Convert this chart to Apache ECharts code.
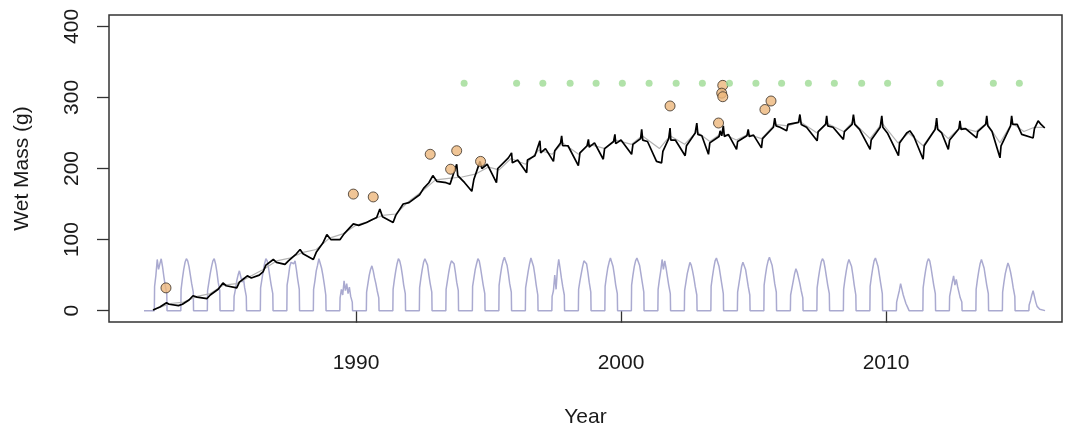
<!DOCTYPE html>
<html>
<head>
<meta charset="utf-8">
<script src="https://cdn.jsdelivr.net/npm/echarts@6/dist/echarts.min.js"></script>
<style>
  html, body { margin: 0; padding: 0; background: #ffffff; }
  #chart { width: 1072px; height: 434px; }
</style>
</head>
<body>
<div id="chart"></div>
<script>
// Axis ticks
const xTicks = [1990, 2000, 2010];
const yTicks = [0, 100, 200, 300, 400];

// Seasonal forcing curve (lavender): one summer pulse per year, zero otherwise
const pulseYears = [1982, 1983, 1984, 1985, 1986, 1987, 1988, 1989, 1990, 1991, 1992,
  1993, 1994, 1995, 1996, 1997, 1998, 1999, 2000, 2001, 2002, 2003, 2004, 2005, 2006,
  2007, 2008, 2009, 2010, 2011, 2012, 2013, 2014, 2015];
// position of each pulse sample within its year
const pulseFractions = [0.40, 0.45, 0.50, 0.55, 0.60, 0.65, 0.70, 0.75, 0.80, 0.86];
const pulseValues = [
  [34, 50, 72, 58, 66, 73, 62, 48, 36, 24],
  [30, 45, 58, 68, 73, 70, 62, 50, 38, 26],
  [28, 40, 52, 62, 70, 73, 66, 55, 40, 28],
  [20, 30, 42, 50, 56, 48, 40, 46, 32, 20],
  [32, 44, 56, 66, 73, 70, 60, 48, 36, 24],
  [36, 48, 62, 68, 70, 66, 70, 58, 44, 30],
  [30, 42, 56, 64, 73, 71, 60, 50, 38, 22],
  [18, 30, 22, 42, 28, 38, 24, 33, 20, 12],
  [26, 38, 50, 58, 63, 56, 46, 38, 28, 18],
  [30, 44, 56, 66, 73, 70, 62, 50, 36, 24],
  [32, 46, 58, 68, 73, 72, 64, 50, 38, 26],
  [30, 42, 54, 64, 70, 72, 66, 54, 40, 28],
  [34, 46, 58, 66, 73, 70, 60, 48, 36, 24],
  [36, 50, 62, 70, 75, 73, 64, 52, 38, 26],
  [32, 44, 56, 66, 74, 72, 62, 50, 36, 22],
  [20, 28, 50, 30, 58, 72, 60, 46, 34, 22],
  [30, 42, 52, 62, 70, 72, 66, 54, 40, 26],
  [34, 48, 60, 68, 74, 72, 62, 50, 36, 24],
  [36, 50, 62, 70, 74, 73, 64, 52, 40, 26],
  [30, 44, 56, 72, 58, 70, 60, 48, 36, 24],
  [28, 40, 52, 60, 68, 64, 56, 46, 34, 22],
  [34, 48, 60, 70, 74, 72, 62, 50, 38, 24],
  [26, 38, 50, 62, 68, 66, 58, 46, 34, 22],
  [36, 50, 62, 70, 75, 73, 64, 52, 38, 26],
  [22, 32, 42, 52, 59, 54, 46, 38, 28, 18],
  [32, 46, 58, 68, 73, 70, 60, 48, 36, 24],
  [30, 44, 56, 66, 72, 70, 62, 50, 36, 22],
  [34, 48, 60, 70, 74, 72, 62, 50, 38, 24],
  [12, 20, 28, 38, 30, 22, 16, 10, 6, 4],
  [32, 46, 58, 68, 73, 70, 60, 48, 36, 24],
  [20, 30, 40, 49, 36, 44, 34, 26, 18, 12],
  [30, 44, 56, 66, 72, 70, 60, 48, 36, 24],
  [26, 40, 52, 60, 67, 62, 54, 44, 32, 20],
  [8, 14, 22, 28, 20, 12, 6, 4, 2, 1]
];
const pulseStart = 1982.0;
const pulseEnd = 2016.0;

// Modelled wet mass (black), [year, grams]
const massModel = [
  [1982.34, 1], [1982.6, 5], [1982.85, 11], [1982.95, 9], [1983.3, 7], [1983.45, 9],
  [1983.7, 15], [1983.85, 21], [1984.0, 19], [1984.38, 17], [1984.5, 22], [1984.8, 30],
  [1984.98, 39], [1985.1, 35], [1985.5, 32], [1985.6, 40], [1985.9, 49], [1986.05, 46],
  [1986.35, 50], [1986.5, 55], [1986.6, 64], [1986.88, 72], [1987.0, 68], [1987.32, 65],
  [1987.45, 70], [1987.75, 80], [1987.89, 86], [1988.0, 80], [1988.39, 72], [1988.5, 82],
  [1988.75, 95], [1988.9, 107], [1989.05, 100], [1989.4, 100], [1989.55, 108], [1989.75, 116],
  [1989.9, 122], [1990.1, 120], [1990.4, 124], [1990.6, 128], [1990.78, 131], [1990.9, 143],
  [1991.0, 132], [1991.4, 124], [1991.5, 134], [1991.78, 150], [1992.0, 152], [1992.4, 163],
  [1992.55, 172], [1992.75, 180], [1992.9, 190], [1993.05, 182], [1993.4, 180], [1993.55, 178],
  [1993.7, 195], [1993.8, 206], [1993.84, 190], [1994.1, 180], [1994.37, 168], [1994.45, 185],
  [1994.68, 210], [1994.75, 200], [1994.95, 206], [1995.3, 180], [1995.35, 200], [1995.75, 215],
  [1995.87, 222], [1995.9, 208], [1996.1, 212], [1996.44, 194], [1996.47, 212], [1996.75, 218],
  [1996.94, 239], [1996.97, 222], [1997.15, 228], [1997.45, 210], [1997.5, 225], [1997.72, 236],
  [1997.76, 246], [1997.8, 232], [1998.0, 232], [1998.39, 204], [1998.45, 222], [1998.72, 232],
  [1998.77, 241], [1998.8, 230], [1999.0, 236], [1999.33, 213], [1999.38, 228], [1999.72, 238],
  [1999.77, 248], [1999.8, 235], [2000.0, 240], [2000.4, 220], [2000.45, 234], [2000.74, 242],
  [2000.78, 255], [2000.82, 240], [2001.0, 238], [2001.34, 210], [2001.53, 208], [2001.58, 224],
  [2001.8, 242], [2001.85, 257], [2001.88, 240], [2002.05, 240], [2002.42, 218], [2002.47, 232],
  [2002.8, 250], [2002.86, 264], [2002.9, 248], [2003.05, 246], [2003.3, 220], [2003.35, 236],
  [2003.7, 245], [2003.74, 253], [2003.8, 246], [2003.86, 260], [2003.9, 245], [2004.05, 248],
  [2004.36, 227], [2004.4, 238], [2004.75, 246], [2004.8, 255], [2004.84, 245], [2005.0, 247],
  [2005.3, 229], [2005.34, 242], [2005.75, 258], [2005.8, 271], [2005.85, 260], [2006.0, 258],
  [2006.25, 253], [2006.3, 262], [2006.7, 265], [2006.75, 276], [2006.8, 262], [2007.0, 258],
  [2007.4, 239], [2007.44, 252], [2007.72, 262], [2007.76, 274], [2007.8, 260], [2008.0, 258],
  [2008.39, 241], [2008.43, 252], [2008.72, 262], [2008.77, 276], [2008.82, 262], [2009.0, 255],
  [2009.4, 227], [2009.44, 240], [2009.78, 258], [2009.84, 274], [2009.88, 258], [2010.05, 250],
  [2010.47, 218], [2010.51, 236], [2010.78, 250], [2010.9, 253], [2011.05, 245], [2011.4, 213],
  [2011.44, 232], [2011.85, 255], [2011.88, 262], [2011.91, 271], [2011.95, 255], [2012.1, 250],
  [2012.35, 227], [2012.4, 240], [2012.75, 256], [2012.79, 267], [2012.83, 255], [2013.0, 256],
  [2013.42, 243], [2013.46, 252], [2013.76, 262], [2013.8, 274], [2013.84, 260], [2014.0, 252],
  [2014.3, 215], [2014.34, 232], [2014.7, 260], [2014.74, 274], [2014.78, 262], [2014.95, 262],
  [2015.12, 248], [2015.55, 243], [2015.6, 256], [2015.74, 267], [2015.85, 262], [2015.99, 257]
];

// Smoothed wet mass (grey), [year, grams]
const massSmooth = [
  [1982.34, 1], [1983.0, 10], [1983.5, 12], [1984.0, 20], [1984.5, 24], [1985.0, 36],
  [1985.5, 38], [1986.0, 48], [1986.5, 58], [1987.0, 70], [1987.5, 74], [1988.0, 82],
  [1988.5, 86], [1989.0, 102], [1989.5, 108], [1990.0, 120], [1990.5, 126], [1991.0, 134],
  [1991.5, 136], [1992.0, 154], [1992.5, 168], [1993.0, 184], [1993.5, 186], [1994.0, 188],
  [1994.5, 192], [1995.0, 202], [1995.4, 198], [1995.85, 214], [1996.4, 206], [1996.9, 226],
  [1997.4, 220], [1997.8, 236], [1998.4, 220], [1998.8, 234], [1999.4, 228], [1999.8, 240],
  [2000.4, 234], [2000.8, 246], [2001.45, 228], [2001.85, 246], [2002.4, 234], [2002.85, 252],
  [2003.35, 238], [2003.8, 250], [2004.35, 240], [2004.8, 248], [2005.3, 242], [2005.8, 262],
  [2006.3, 260], [2006.75, 266], [2007.4, 250], [2007.75, 264], [2008.4, 252], [2008.75, 266],
  [2009.4, 242], [2009.85, 264], [2010.45, 236], [2010.85, 250], [2011.4, 232], [2011.9, 258],
  [2012.35, 242], [2012.8, 258], [2013.4, 252], [2013.8, 264], [2014.3, 236], [2014.75, 264],
  [2015.2, 252], [2015.6, 258], [2015.99, 258]
];

// Measured wet mass of sampled animals (orange)
const sampleYears = [1982.83, 1989.9, 1990.65, 1992.8, 1993.57, 1993.8, 1994.7,
  2001.85, 2003.84, 2003.8, 2003.84, 2003.68, 2005.43, 2005.66];
const sampleMass = [32, 164, 160, 220, 199, 225, 210, 288, 317, 306, 301, 264, 283, 295];

// Survey occasions (green), drawn on one line near the top
const surveyYears = [1994.08, 1996.06, 1997.05, 1998.08, 1999.06, 2000.05, 2001.06,
  2002.08, 2003.07, 2004.09, 2005.09, 2006.06, 2007.07, 2008.05, 2009.08, 2010.06,
  2012.04, 2014.05, 2015.03];
const surveyLevel = 320;

// ---- build series data ----
const pulseData = [[pulseStart, 0]];
pulseYears.forEach((yr, i) => {
  pulseData.push([yr + 0.39, 0]);
  pulseFractions.forEach((f, j) => pulseData.push([yr + f, pulseValues[i][j]]));
  pulseData.push([yr + 0.87, 0]);
});
pulseData.push([pulseEnd, 0]);

const sampleData = sampleYears.map((t, i) => [t, sampleMass[i]]);
const surveyData = surveyYears.map(t => [t, surveyLevel]);

const FONT = "'Liberation Sans', Arial, Helvetica, sans-serif";
const TEXT = '#1a1a1a';
const plain = v => String(v);

const chart = echarts.init(document.getElementById('chart'), null, { renderer: 'canvas' });
chart.setOption({
  animation: false,
  backgroundColor: '#ffffff',
  grid: {
    left: 109, top: 15, right: 10, bottom: 112,
    show: true, borderColor: '#333333', borderWidth: 1.5, backgroundColor: 'transparent'
  },
  xAxis: {
    type: 'value', min: 1980.68, max: 2016.64,
    splitLine: { show: false },
    axisLine: { show: false },
    axisTick: { show: true, customValues: xTicks, length: 12, lineStyle: { color: '#333333', width: 1.3 } },
    axisLabel: { customValues: xTicks, formatter: plain, fontSize: 21, fontFamily: FONT, color: TEXT, margin: 31 },
    name: 'Year', nameLocation: 'middle', nameGap: 85,
    nameTextStyle: { fontSize: 21, fontFamily: FONT, color: TEXT }
  },
  yAxis: {
    type: 'value', min: -16, max: 416,
    splitLine: { show: false },
    axisLine: { show: false },
    axisTick: { show: true, customValues: yTicks, length: 12, lineStyle: { color: '#333333', width: 1.3 } },
    axisLabel: { customValues: yTicks, formatter: plain, rotate: 90, fontSize: 21, fontFamily: FONT, color: TEXT, margin: 26 },
    name: 'Wet Mass (g)', nameLocation: 'middle', nameGap: 76, nameRotate: 90,
    nameTextStyle: { fontSize: 21, fontFamily: FONT, color: TEXT }
  },
  series: [
    {
      name: 'forcing', type: 'line', data: pulseData, showSymbol: false, silent: true,
      lineStyle: { color: '#aaaad0', width: 1.5 }, z: 1
    },
    {
      name: 'smoothed', type: 'line', data: massSmooth, showSymbol: false, silent: true,
      lineStyle: { color: '#b4b4b4', width: 1.2 }, z: 2
    },
    {
      name: 'model', type: 'line', data: massModel, showSymbol: false, silent: true,
      lineStyle: { color: '#000000', width: 1.7 }, z: 3
    },
    {
      name: 'samples', type: 'scatter', data: sampleData, symbol: 'circle', symbolSize: 10,
      itemStyle: { color: '#ecb77c', borderColor: '#3a3026', borderWidth: 1 }, z: 4
    },
    {
      name: 'surveys', type: 'scatter', data: surveyData, symbol: 'circle', symbolSize: 7,
      itemStyle: { color: '#9edb94' }, z: 4
    }
  ]
});
</script>
</body>
</html>
